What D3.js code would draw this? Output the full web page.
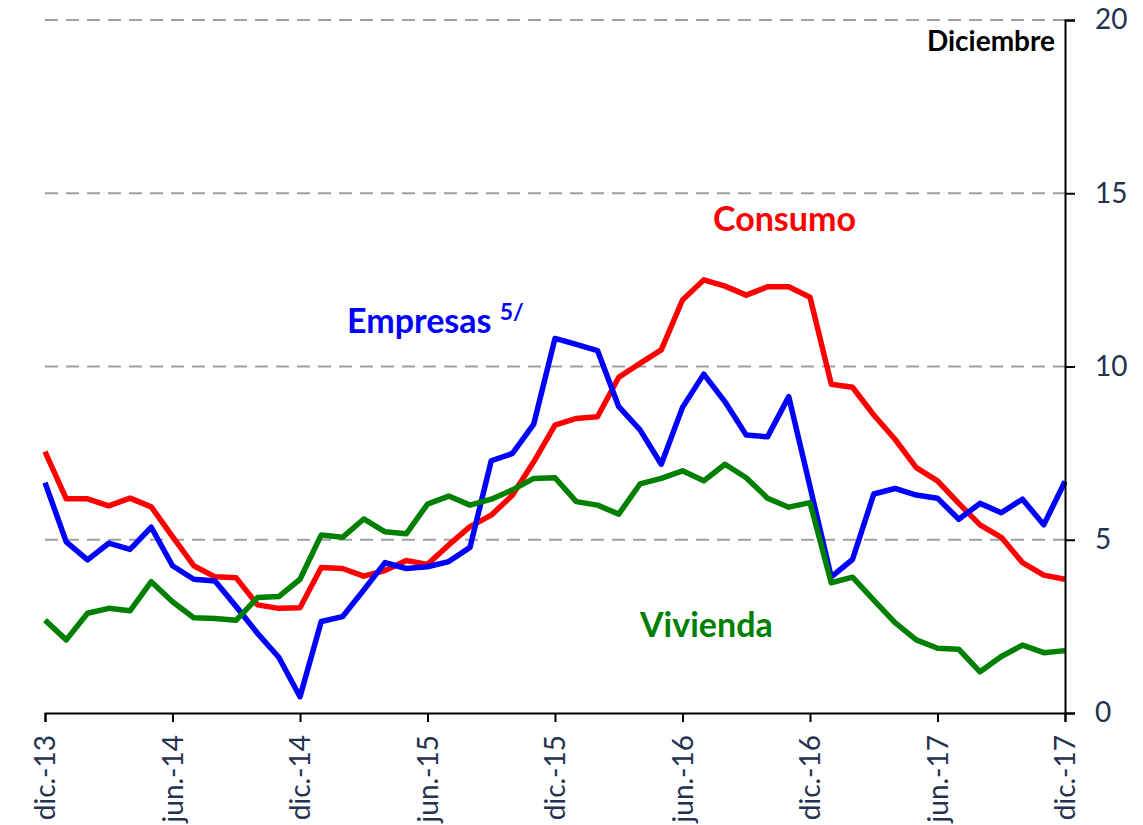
<!DOCTYPE html>
<html>
<head>
<meta charset="utf-8">
<script src="https://cdn.jsdelivr.net/npm/d3@7"></script>
<style>
  html, body { margin: 0; padding: 0; background: #ffffff; }
  svg { display: block; }
</style>
</head>
<body>
<svg id="chart" width="1143" height="825"></svg>
<script>
// Monthly data, dic.-13 .. dic.-17 (49 months)
const tickLabels = ["dic.-13","jun.-14","dic.-14","jun.-15","dic.-15","jun.-16","dic.-16","jun.-17","dic.-17"];
const yTicks = [0, 5, 10, 15, 20];

const consumo = [7.54,6.18,6.18,5.98,6.20,5.95,5.09,4.25,3.93,3.90,3.12,3.02,3.04,4.20,4.17,3.95,4.11,4.40,4.29,4.85,5.38,5.71,6.29,7.25,8.31,8.50,8.55,9.69,10.09,10.48,11.92,12.50,12.32,12.06,12.30,12.30,12.00,9.49,9.40,8.60,7.90,7.08,6.70,6.05,5.43,5.07,4.34,3.98,3.86];
const empresas = [6.65,4.94,4.42,4.90,4.72,5.36,4.25,3.86,3.81,3.07,2.30,1.61,0.47,2.64,2.78,3.55,4.34,4.17,4.22,4.37,4.78,7.28,7.49,8.34,10.81,10.64,10.46,8.84,8.17,7.18,8.82,9.78,8.98,8.02,7.97,9.13,6.53,3.93,4.43,6.32,6.48,6.29,6.20,5.59,6.05,5.78,6.17,5.43,6.68];
const vivienda = [2.68,2.11,2.88,3.02,2.95,3.79,3.21,2.75,2.73,2.68,3.33,3.36,3.86,5.14,5.07,5.60,5.23,5.17,6.03,6.26,6.00,6.17,6.44,6.77,6.79,6.10,6.00,5.74,6.61,6.77,6.99,6.70,7.18,6.79,6.20,5.94,6.07,3.76,3.92,3.26,2.61,2.11,1.87,1.84,1.19,1.63,1.96,1.74,1.80];

const seriesNames = ["Consumo", "Empresas", "Vivienda"];
const seriesValues = [consumo, empresas, vivienda];
const seriesColors = ["#FF0000", "#0000FF", "#008000"];

(function () {
const svg = d3.select("#chart");
const mLeft = 45, mRight = 1065, mTop = 20, mBottom = 713;

const x = d3.scaleLinear().domain([0, 48]).range([mLeft, mRight]);
const y = d3.scaleLinear().domain([0, 20]).range([mBottom, mTop]);

const font = "Lato, 'Open Sans', sans-serif";
const tickColor = "#233250";

// Grid lines
svg.append("g")
  .selectAll("line")
  .data(yTicks.filter(d => d > 0))
  .join("line")
  .attr("x1", mLeft).attr("x2", mRight)
  .attr("y1", d => y(d)).attr("y2", d => y(d))
  .attr("stroke", "#A0A0A0")
  .attr("stroke-width", 2)
  .attr("stroke-dasharray", "13,8");

// Lines
const line = d3.line().x((d, i) => x(i)).y(d => y(d));
seriesValues.forEach((vals, k) => {
  svg.append("path")
    .datum(vals)
    .attr("d", line)
    .attr("fill", "none")
    .attr("stroke", seriesColors[k])
    .attr("stroke-width", 5.5)
    .attr("stroke-linejoin", "round");
});

// Bottom axis
const xAxis = d3.axisBottom(x)
  .tickValues(d3.range(0, 49, 6))
  .tickFormat(i => tickLabels[i / 6])
  .tickSizeOuter(0)
  .tickSize(9);
const gx = svg.append("g").attr("transform", `translate(0,${mBottom})`).call(xAxis);
gx.select(".domain").attr("stroke", "#000").attr("stroke-width", 2);
gx.selectAll(".tick line").attr("stroke", "#000").attr("stroke-width", 2);
gx.selectAll(".tick text")
  .attr("font-family", font)
  .attr("font-size", 28)
  .attr("fill", tickColor)
  .attr("transform", "rotate(-90)")
  .attr("text-anchor", "end")
  .attr("x", -22)
  .attr("y", 0)
  .attr("dy", "0.35em");

// Right axis
const yAxis = d3.axisRight(y)
  .tickValues(yTicks)
  .tickSizeOuter(0)
  .tickSize(10)
  .tickPadding(20);
const gy = svg.append("g").attr("transform", `translate(${mRight},0)`).call(yAxis);
gy.select(".domain").attr("stroke", "#000").attr("stroke-width", 2);
gy.selectAll(".tick line").attr("stroke", "#000").attr("stroke-width", 2);
gy.selectAll(".tick text")
  .attr("font-family", font)
  .attr("font-size", 28)
  .attr("fill", tickColor);

// Annotations
svg.append("text")
  .attr("x", 1055).attr("y", 51)
  .attr("text-anchor", "end")
  .attr("font-family", font).attr("font-weight", "bold")
  .attr("font-size", 28).attr("fill", "#000")
  .text("Diciembre");

svg.append("text")
  .attr("x", 713).attr("y", 231)
  .attr("font-family", font).attr("font-weight", "bold")
  .attr("font-size", 34).attr("fill", seriesColors[0])
  .text(seriesNames[0]);

const emp = svg.append("text")
  .attr("x", 347).attr("y", 333)
  .attr("font-family", font).attr("font-weight", "bold")
  .attr("font-size", 34).attr("fill", seriesColors[1]);
emp.append("tspan").text(seriesNames[1] + " ");
emp.append("tspan").attr("font-size", 23).attr("dy", -13).text("5/");

svg.append("text")
  .attr("x", 640).attr("y", 637)
  .attr("font-family", font).attr("font-weight", "bold")
  .attr("font-size", 34).attr("fill", seriesColors[2])
  .text(seriesNames[2]);
})();
</script>
</body>
</html>
